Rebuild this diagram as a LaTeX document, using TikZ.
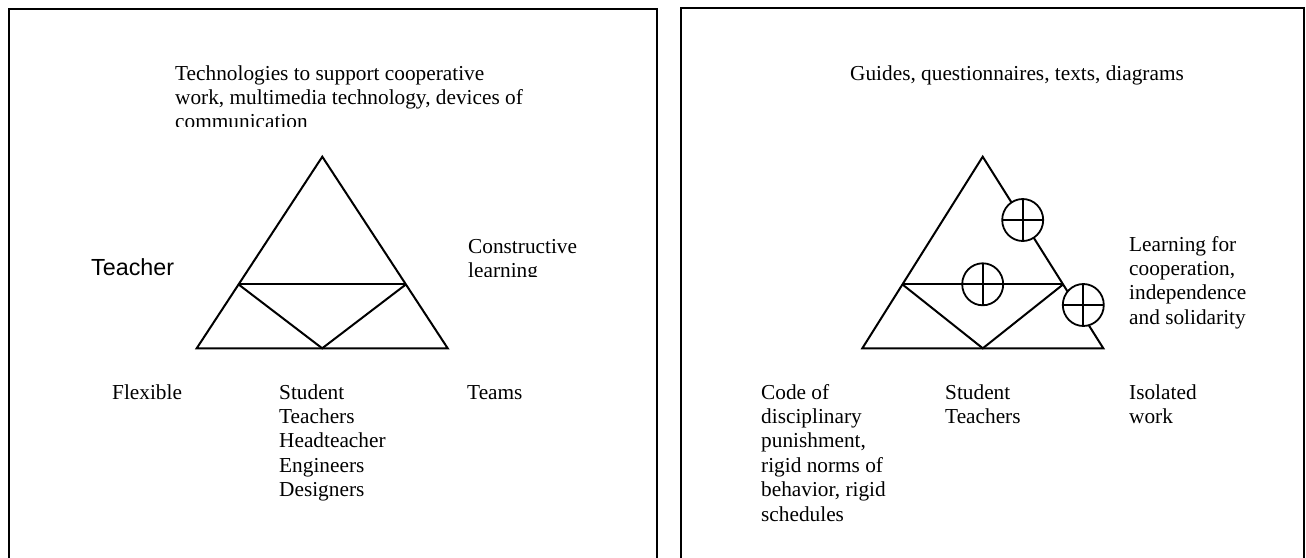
\documentclass[tikz,border=0pt]{standalone}
\usepackage{fontspec}
\setmainfont{Liberation Serif}
\newfontfamily\labelsans{Liberation Sans}
\usetikzlibrary{calc,shapes.geometric}

\tikzset{
  panel/.style={line width=2pt},
  tri/.style={line width=2pt},
  % anchored on the baseline of the last line
  lbl/.style={anchor=base west, inner sep=0pt, align=left,
    font=\fontsize{21.3}{24.4}\selectfont},
  oplusnode/.style={ellipse, draw, fill=white, line width=1.8pt,
    inner sep=0pt, minimum width=41pt, minimum height=42pt,
    path picture={
      \draw[line width=1.8pt] (path picture bounding box.north) -- (path picture bounding box.south);
      \draw[line width=1.8pt] (path picture bounding box.west) -- (path picture bounding box.east);
    }}
}

\begin{document}
\begin{tikzpicture}[x=1pt, y=-1pt]
    \clip (0,0) rectangle (1306,557);

    % the two panels
    \draw[panel] (9,9) rectangle (657,600);
    \draw[panel] (681,8) rectangle (1304,600);

    % left triangle
    \coordinate (topL) at (322.3,156.7);
    \coordinate (leftL) at (196.7,348.3);
    \coordinate (rightL) at (447.7,348.3);
    \coordinate (midL) at ($(leftL)!0.5!(rightL)$);
    \coordinate (sideLa) at ($(topL)!2/3!(leftL)$);
    \coordinate (sideLb) at ($(topL)!2/3!(rightL)$);

    \draw[tri] (topL) -- (leftL) -- (rightL) -- cycle;
    \draw[tri] (sideLa) -- (sideLb);
    \draw[tri] (sideLa) -- (midL) -- (sideLb);

    % right triangle
    \coordinate (topR) at (982.7,156.7);
    \coordinate (leftR) at (862.3,348.3);
    \coordinate (rightR) at (1103.3,348.3);
    \coordinate (midR) at ($(leftR)!0.5!(rightR)$);
    \coordinate (sideRa) at ($(topR)!2/3!(leftR)$);
    \coordinate (sideRb) at ($(topR)!2/3!(rightR)$);

    \draw[tri] (topR) -- (leftR) -- (rightR) -- cycle;
    \draw[tri] (sideRa) -- (sideRb);
    \draw[tri] (sideRa) -- (midR) -- (sideRb);

    \node[oplusnode] (plusA) at (1022.7,220) {};
    \node[oplusnode] (plusB) at (982.7,284.3) {};
    \node[oplusnode] (plusC) at (1083.3,305) {};

    % left panel texts
    \begin{scope}
        \clip (150,40) rectangle (640,126);
        \node[lbl] (tools) at (175,128.8) {Technologies to support cooperative\\work, multimedia technology, devices of\\communication};
    \end{scope}
    \node[lbl, font=\labelsans\fontsize{23.3}{27}\selectfont] (teacher) at (91,275) {Teacher};
    \begin{scope}
        \clip (440,220) rectangle (640,276.5);
        \node[lbl] (constructive) at (468,277.4) {Constructive\\learning};
    \end{scope}
    \node[lbl] (flexible) at (112,399) {Flexible};
    \node[lbl] (studentL) at (279,496.6) {Student\\Teachers\\Headteacher\\Engineers\\Designers};
    \node[lbl] (teams) at (467,399) {Teams};

    % right panel texts
    \node[lbl] (guides) at (850,80) {Guides, questionnaires, texts, diagrams};
    \node[lbl] (learning) at (1129,324.2) {Learning for\\cooperation,\\independence\\and solidarity};
    \node[lbl] (code) at (761,521) {Code of\\disciplinary\\punishment,\\rigid norms of\\behavior, rigid\\schedules};
    \node[lbl] (studentR) at (945,423.4) {Student\\Teachers};
    \node[lbl] (isolated) at (1129,423.4) {Isolated\\work};
\end{tikzpicture}
\end{document}
